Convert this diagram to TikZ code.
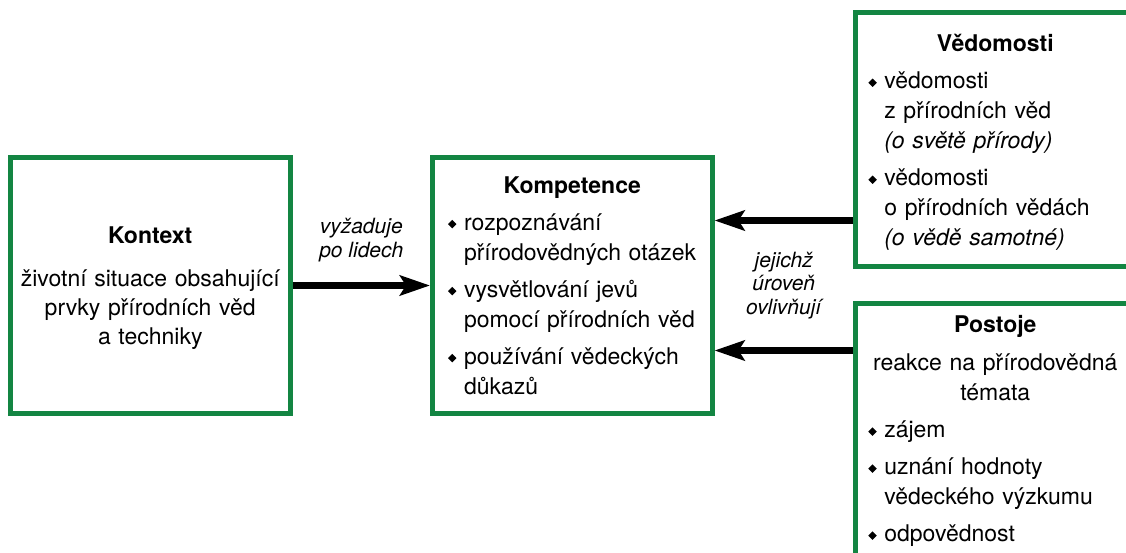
\documentclass[tikz,border=0pt]{standalone}
\usepackage{fontspec}
\setmainfont{TeX Gyre Heros}
\usepackage{graphicx}
\usetikzlibrary{positioning, calc, arrows.meta}
\definecolor{PISA1}{HTML}{138542}
\tikzstyle{box} = [rectangle, draw=PISA1, line width=5pt, minimum width=279.5pt, inner xsep=12.8pt, text width=253.9pt, align=left, font=\fontsize{23}{30}\selectfont]
\tikzstyle{note} = [inner sep=0pt, align=center, font=\fontsize{21}{23.5}\selectfont\itshape]
\tikzstyle{arrow} = [line width=7.5pt, -{Stealth[length=30pt, width=20pt, inset=6pt]}]
\newcommand{\diam}{\raisebox{1.8pt}{\rotatebox{45}{\rule{6pt}{6pt}}}}
\newcommand{\bitem}{\par\vspace{7pt}\hangindent=16pt\hangafter=1\noindent\makebox[16pt][l]{\diam}}
\newcommand{\btitle}[1]{{\centering\textbf{#1}\par}}

\begin{document}
\begin{tikzpicture}[x=1pt, y=-1pt]
\useasboundingbox (0,0) rectangle (1126,553);

\node (kon) [box, minimum height=255pt, inner xsep=5pt, text width=265pt, align=center, font=\fontsize{23}{29}\selectfont] at (150.25,285.5)
  {\rule{0pt}{22.5pt}\textbf{Kontext}\\[14pt] životní situace obsahující\\ prvky přírodních věd\\ a techniky};

\node (komp) [box, minimum height=255pt, right=137.5pt of kon]
  {\leftskip=2.7pt \btitle{Kompetence}
   \bitem rozpoznávání\newline přírodovědných otázek
   \bitem vysvětlování jevů\newline pomocí přírodních věd
   \bitem používání vědeckých\newline důkazů\par};

\node (ved) [box, minimum height=254pt, anchor=north west] at (853,10)
  {\btitle{\rule{0pt}{23.5pt}Vědomosti}
   \bitem vědomosti\newline z přírodních věd\newline \textit{(o světě přírody)}
   \bitem vědomosti\newline o přírodních vědách\newline \textit{(o vědě samotné)}\par};

\node (post) [box, inner ysep=12pt, text depth=255pt, anchor=north west] at (853,301)
  {\btitle{Postoje}\vspace{8pt}
   {\centering reakce na přírodovědná\\ témata\par}
   \bitem zájem
   \bitem uznání hodnoty\newline vědeckého výzkumu
   \bitem odpovědnost\par};

\coordinate (k1) at ($(komp.north east)!.25!(komp.south east)$);
\coordinate (k2) at ($(komp.north east)!.75!(komp.south east)$);

\draw [arrow] (kon) -- node [note, above=20pt] {vyžaduje\\po lidech} (komp);
\draw [arrow] (ved.west |- k1) -- (k1);
\draw [arrow] (post.west |- k2) -- (k2);

\node (lvl) [note] at ($(komp.east)!.5!(post.west |- komp.east)$) {jejichž\\úroveň\\ovlivňují};

\end{tikzpicture}
\end{document}
